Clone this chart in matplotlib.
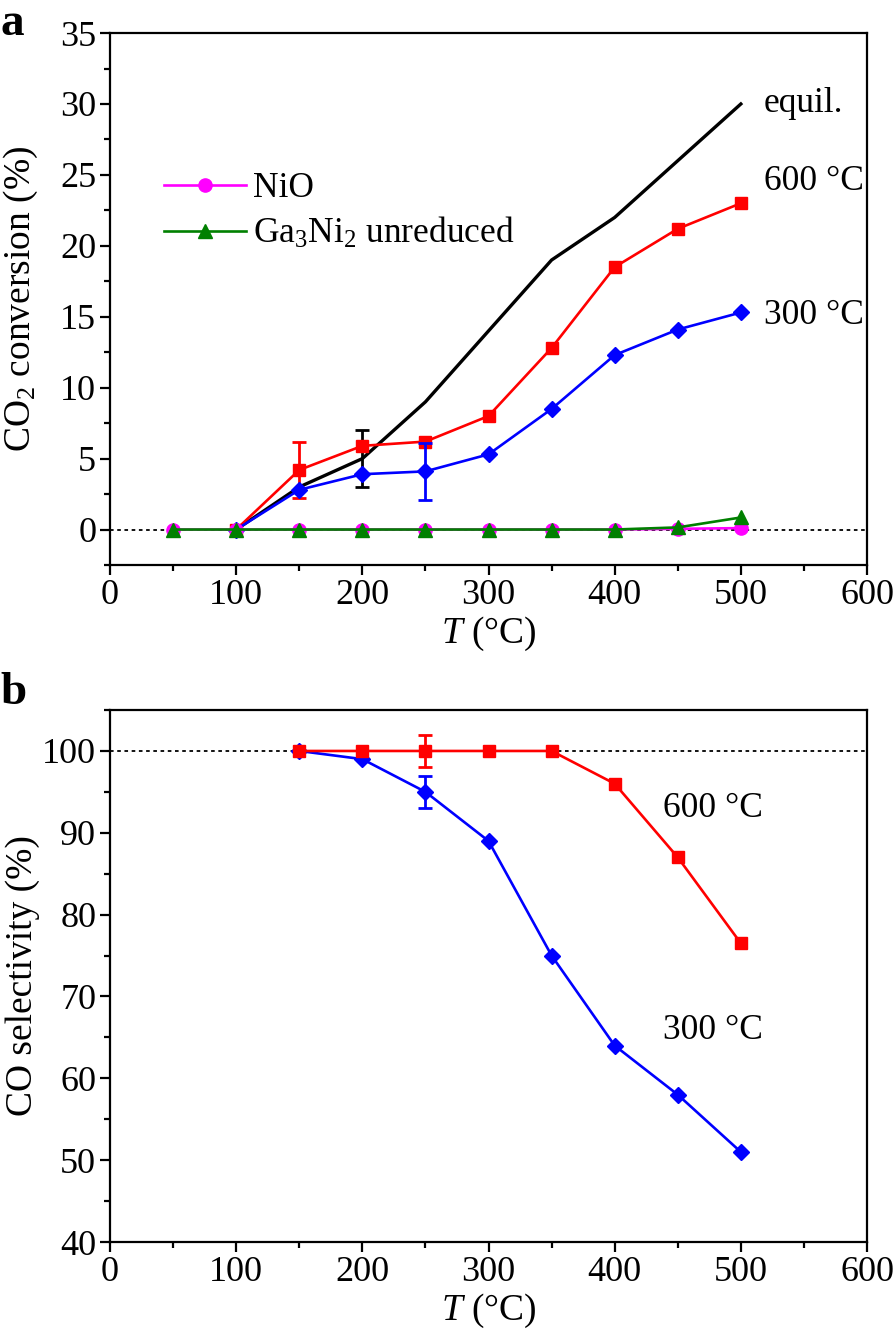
import matplotlib
matplotlib.use("Agg")
import matplotlib.pyplot as plt
from matplotlib.ticker import MultipleLocator

plt.rcParams['font.family'] = ['Liberation Serif', 'DejaVu Serif']
plt.rcParams['mathtext.fontset'] = 'custom'
plt.rcParams['mathtext.rm'] = 'Liberation Serif'
plt.rcParams['mathtext.it'] = 'Liberation Serif:italic'

# ---- Data: panel a (CO2 conversion, %) ----
T_all = [50, 100, 150, 200, 250, 300, 350, 400, 450, 500]
T_equil = [100, 150, 200, 250, 300, 350, 400, 450, 500]
conv_equil = [0, 3.0, 5.0, 9.0, 14.0, 19.0, 22.0, 26.0, 30.0]
T_red = [100, 150, 200, 250, 300, 350, 400, 450, 500]
conv_600 = [0, 4.2, 5.9, 6.2, 8.0, 12.8, 18.5, 21.2, 23.0]
conv_300 = [0, 2.8, 3.9, 4.1, 5.3, 8.5, 12.3, 14.1, 15.3]
conv_nio = [0, 0, 0, 0, 0, 0, 0, 0, 0.05, 0.1]
conv_ga3ni2 = [0, 0, 0, 0, 0, 0, 0, 0, 0.15, 0.85]
# error bars (T, value, err)
err_equil = (200, 5.0, 2.0)
err_600 = (150, 4.2, 2.0)
err_300 = (250, 4.1, 2.0)

# ---- Data: panel b (CO selectivity, %) ----
T_sel = [150, 200, 250, 300, 350, 400, 450, 500]
sel_600 = [100, 100, 100, 100, 100, 96, 87, 76.5]
sel_300 = [100, 99, 95, 89, 75, 64, 58, 51]
err_sel_600 = (250, 100, 2.0)
err_sel_300 = (250, 95, 2.0)

RED = '#ff0000'
BLUE = '#0000ff'
MAG = '#ff00ff'
GRN = '#008000'
FS_TICK = 26
FS_LAB = 27
FS_TXT = 25.5
LW = 1.9

fig = plt.figure(figsize=(8.93, 13.43), dpi=100)
axa = fig.add_axes([0.1232, 0.5793, 0.8477, 0.3961])
axb = fig.add_axes([0.1232, 0.0752, 0.8477, 0.3961])

def style(ax):
    for s in ax.spines.values():
        s.set_linewidth(1.6)
    ax.tick_params(which='both', direction='out', width=1.6, labelsize=FS_TICK,
                   top=False, right=False)
    ax.tick_params(which='major', length=7, pad=3)
    ax.tick_params(which='minor', length=4)
    ax.set_xlim(0, 600)
    ax.xaxis.set_major_locator(MultipleLocator(100))
    ax.xaxis.set_minor_locator(MultipleLocator(50))
    ax.set_xlabel(r'$T$ (°C)', fontsize=FS_LAB, labelpad=2)

# Panel a
style(axa)
axa.axhline(0, color='black', lw=1.3, ls=(0, (2, 2)), zorder=1)
axa.plot(T_equil, conv_equil, color='black', lw=2.4, zorder=3)
axa.errorbar([err_equil[0]], [err_equil[1]], yerr=[err_equil[2]], fmt='none',
             ecolor='black', elinewidth=2, capsize=5, capthick=2, zorder=3)
axa.plot(T_red, conv_600, color=RED, lw=LW, marker='s', ms=8.5, zorder=4)
axa.errorbar([err_600[0]], [err_600[1]], yerr=[err_600[2]], fmt='none',
             ecolor=RED, elinewidth=2, capsize=5, capthick=2, zorder=4)
axa.plot(T_red, conv_300, color=BLUE, lw=LW, marker='D', ms=8, zorder=5)
axa.errorbar([err_300[0]], [err_300[1]], yerr=[err_300[2]], fmt='none',
             ecolor=BLUE, elinewidth=2, capsize=5, capthick=2, zorder=5)
l1, = axa.plot(T_all, conv_nio, color=MAG, lw=LW, marker='o', ms=9.5, zorder=6,
               label='NiO')
l2, = axa.plot(T_all, conv_ga3ni2, color=GRN, lw=LW, marker='^', ms=10, zorder=7,
               label=r'Ga$_3$Ni$_2$ unreduced')
axa.set_ylim(-2.5, 35)
axa.yaxis.set_major_locator(MultipleLocator(5))
axa.yaxis.set_minor_locator(MultipleLocator(2.5))
axa.set_ylabel(r'CO$_2$ conversion (%)', fontsize=FS_LAB)
axa.yaxis.set_label_coords(-0.093, 0.5)
axa.legend(handles=[l1, l2], loc='upper left', bbox_to_anchor=(0.053, 0.765),
           frameon=False, fontsize=FS_TXT, handlelength=2.3, handletextpad=0.2,
           labelspacing=0.3, borderaxespad=0)
axa.text(518, 30, 'equil.', fontsize=FS_TXT, va='center', ha='left')
axa.text(518, 24.5, '600 °C', fontsize=FS_TXT, va='center', ha='left')
axa.text(518, 15.1, '300 °C', fontsize=FS_TXT, va='center', ha='left')
fig.text(0.0, 0.998, 'a', fontsize=34, fontweight='bold', va='top', ha='left')

# Panel b
style(axb)
axb.axhline(100, color='black', lw=1.3, ls=(0, (2, 2)), zorder=1)
axb.plot(T_sel, sel_300, color=BLUE, lw=LW, marker='D', ms=8, zorder=4)
axb.errorbar([err_sel_300[0]], [err_sel_300[1]], yerr=[err_sel_300[2]], fmt='none',
             ecolor=BLUE, elinewidth=2, capsize=5, capthick=2, zorder=4)
axb.plot(T_sel, sel_600, color=RED, lw=LW, marker='s', ms=8.5, zorder=5)
axb.errorbar([err_sel_600[0]], [err_sel_600[1]], yerr=[err_sel_600[2]], fmt='none',
             ecolor=RED, elinewidth=2, capsize=5, capthick=2, zorder=5)
axb.set_ylim(40, 105)
axb.yaxis.set_major_locator(MultipleLocator(10))
axb.yaxis.set_minor_locator(MultipleLocator(5))
axb.set_ylabel('CO selectivity (%)', fontsize=FS_LAB)
axb.yaxis.set_label_coords(-0.093, 0.5)
axb.text(438, 93, '600 °C', fontsize=FS_TXT, va='center', ha='left')
axb.text(438, 65.9, '300 °C', fontsize=FS_TXT, va='center', ha='left')
fig.text(0.0, 0.5, 'b', fontsize=34, fontweight='bold', va='top', ha='left')

fig.savefig('out.png', dpi=100)
